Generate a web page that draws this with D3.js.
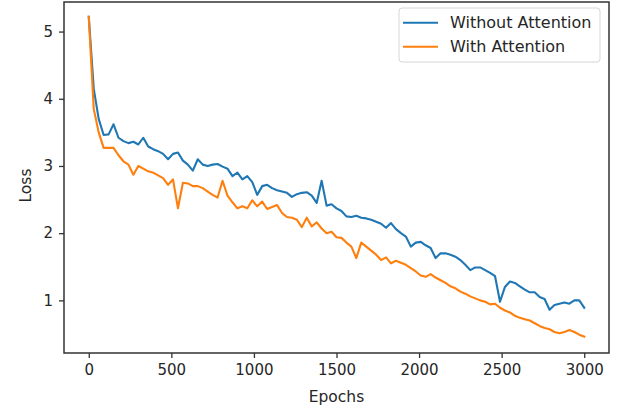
<!DOCTYPE html>
<html>
<head>
<meta charset="utf-8">
<script src="https://cdn.jsdelivr.net/npm/d3@7"></script>
<style>
  html, body { margin: 0; padding: 0; background: #fff; }
  svg { display: block; }
  text { font-family: "DejaVu Sans", sans-serif; fill: #262626; }
</style>
</head>
<body>
<svg id="chart" width="629" height="410"></svg>
<script>
// ---- data ----
const epochs = [0,30,60,90,120,150,180,210,240,270,300,330,360,390,420,450,480,510,540,570,
  600,630,660,690,720,750,780,810,840,870,900,930,960,990,1020,1050,1080,1110,1140,1170,
  1200,1230,1260,1290,1320,1350,1380,1410,1440,1470,1500,1530,1560,1590,1620,1650,1680,1710,1740,1770,
  1800,1830,1860,1890,1920,1950,1980,2010,2040,2070,2100,2130,2160,2190,2220,2250,2280,2310,2340,2370,
  2400,2430,2460,2490,2520,2550,2580,2610,2640,2670,2700,2730,2760,2790,2820,2850,2880,2910,2940,2970,3000];

const withoutAttention = [5.22,4.15,3.70,3.46,3.47,3.62,3.42,3.37,3.34,3.36,3.32,3.42,3.29,3.25,3.22,3.18,3.10,3.18,3.20,3.08,
  3.02,2.93,3.10,3.02,3.00,3.02,3.03,2.99,2.96,2.85,2.90,2.80,2.85,2.76,2.57,2.70,2.72,2.67,2.64,2.62,
  2.60,2.54,2.58,2.60,2.61,2.56,2.45,2.78,2.41,2.43,2.37,2.33,2.25,2.24,2.26,2.23,2.22,2.20,2.17,2.14,
  2.08,2.15,2.06,2.00,1.95,1.80,1.86,1.87,1.82,1.78,1.63,1.70,1.70,1.68,1.65,1.60,1.53,1.45,1.49,1.49,
  1.45,1.41,1.36,0.98,1.20,1.28,1.26,1.21,1.16,1.12,1.12,1.05,1.02,0.86,0.93,0.95,0.97,0.95,1.00,1.00,0.89];

const withAttention = [5.22,3.85,3.50,3.27,3.27,3.27,3.16,3.07,3.02,2.87,3.00,2.96,2.92,2.90,2.86,2.82,2.72,2.80,2.37,2.75,
  2.74,2.70,2.70,2.67,2.62,2.57,2.53,2.78,2.56,2.46,2.37,2.40,2.37,2.49,2.40,2.47,2.36,2.39,2.42,2.30,
  2.24,2.23,2.20,2.09,2.23,2.10,2.16,2.07,2.00,2.02,1.94,1.93,1.86,1.80,1.63,1.86,1.80,1.74,1.68,1.60,
  1.64,1.55,1.59,1.56,1.53,1.48,1.43,1.37,1.35,1.39,1.34,1.30,1.26,1.21,1.18,1.13,1.10,1.06,1.03,1.00,
  0.98,0.94,0.95,0.89,0.85,0.82,0.77,0.74,0.72,0.70,0.66,0.62,0.59,0.57,0.53,0.51,0.53,0.56,0.53,0.49,0.46];

const seriesNames = ["Without Attention", "With Attention"];
const seriesColors = ["#1f77b4", "#ff7f0e"];
const xTicks = [0, 500, 1000, 1500, 2000, 2500, 3000];
const yTicks = [1, 2, 3, 4, 5];
const xLabel = "Epochs";
const yLabel = "Loss";

// ---- layout ----
const plotLeft = 64, plotRight = 609, plotTop = 2, plotBottom = 353;
const svg = d3.select("#chart");

const x = d3.scaleLinear().domain([-150, 3150]).range([plotLeft, plotRight]);
const y = d3.scaleLinear().domain([0.217, 5.44]).range([plotBottom, plotTop]);

const series = [withoutAttention, withAttention];

const line = d3.line()
  .x((d, i) => x(epochs[i]))
  .y(d => y(d));

const plot = svg.append("g");
series.forEach((s, k) => {
  plot.append("path")
    .datum(s)
    .attr("fill", "none")
    .attr("stroke", seriesColors[k])
    .attr("stroke-width", 2.1)
    .attr("stroke-linejoin", "round")
    .attr("stroke-linecap", "square")
    .attr("d", line);
});

// axes
const xAxis = d3.axisBottom(x).tickValues(xTicks).tickSize(5).tickPadding(6).tickFormat(d3.format("d"));
const yAxis = d3.axisLeft(y).tickValues(yTicks).tickSize(5).tickPadding(6).tickFormat(d3.format("d"));

const gx = svg.append("g").attr("transform", `translate(0,${plotBottom})`).call(xAxis);
const gy = svg.append("g").attr("transform", `translate(${plotLeft},0)`).call(yAxis);
[gx, gy].forEach(g => {
  g.select(".domain").remove();
  g.selectAll(".tick line").attr("stroke", "#333").attr("stroke-width", 1.3);
  g.selectAll(".tick text").style("font-family", "DejaVu Sans, sans-serif").style("font-size", "15px").attr("fill", "#333");
});

// frame
svg.append("rect")
  .attr("x", plotLeft).attr("y", plotTop)
  .attr("width", plotRight - plotLeft).attr("height", plotBottom - plotTop)
  .attr("fill", "none").attr("stroke", "#333").attr("stroke-width", 1.5);

// axis labels
svg.append("text")
  .attr("x", (plotLeft + plotRight) / 2).attr("y", 402)
  .attr("text-anchor", "middle")
  .style("font-size", "15.5px")
  .text(xLabel);
svg.append("text")
  .attr("transform", `translate(31,${(plotTop + plotBottom) / 2 + 8}) rotate(-90)`)
  .attr("text-anchor", "middle")
  .style("font-size", "15.5px")
  .text(yLabel);

// legend
const lg = svg.append("g");
lg.append("rect")
  .attr("x", 399).attr("y", 8).attr("width", 201).attr("height", 54).attr("rx", 3)
  .attr("fill", "#fff").attr("fill-opacity", 0.8)
  .attr("stroke", "#d6d6d6").attr("stroke-width", 1);
seriesNames.forEach((name, k) => {
  const ly = 22.7 + k * 24;
  lg.append("line")
    .attr("x1", 403).attr("x2", 438).attr("y1", ly).attr("y2", ly)
    .attr("stroke", seriesColors[k]).attr("stroke-width", 2.1);
  lg.append("text")
    .attr("x", 450).attr("y", ly).attr("dy", "0.35em")
    .style("font-size", "16px")
    .text(name);
});
</script>
</body>
</html>
